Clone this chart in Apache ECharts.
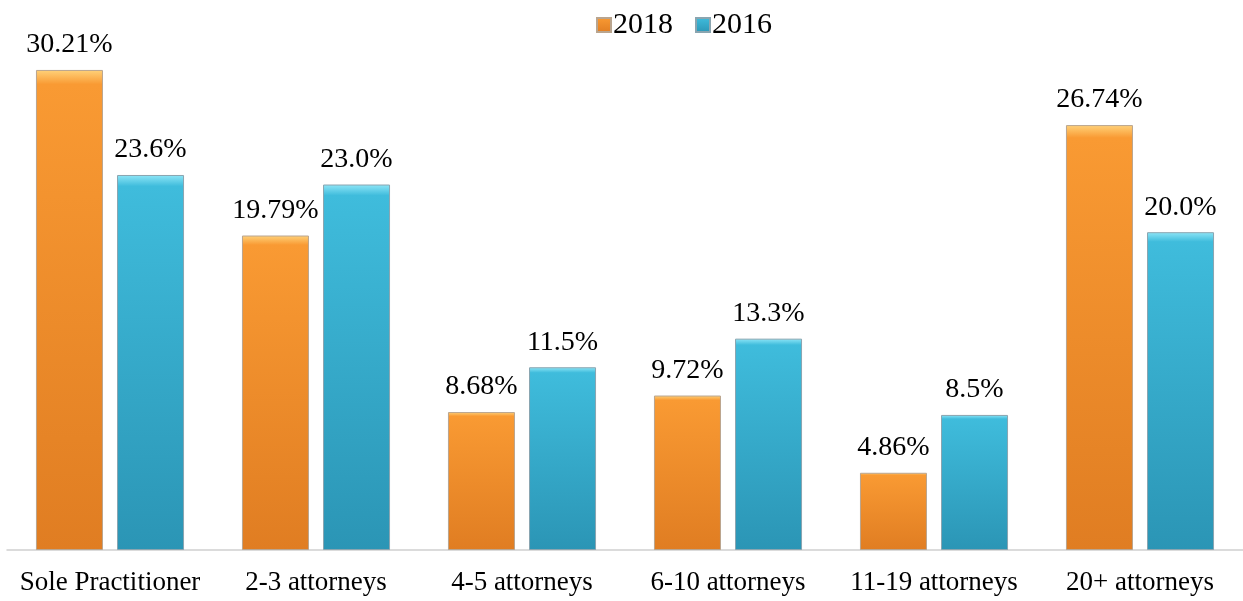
<!DOCTYPE html>
<html>
<head>
<meta charset="utf-8">
<script src="https://cdn.jsdelivr.net/npm/echarts@6/dist/echarts.min.js"></script>
<style>
html, body { margin: 0; padding: 0; background: #fff; }
#chart { width: 1243px; height: 601px; }
</style>
</head>
<body>
<div id="chart"></div>
<script>
var categories = ['Sole Practitioner', '2-3 attorneys', '4-5 attorneys', '6-10 attorneys', '11-19 attorneys', '20+ attorneys'];
var values2018 = [30.21, 19.79, 8.68, 9.72, 4.86, 26.74];
var values2016 = [23.6, 23.0, 11.5, 13.3, 8.5, 20.0];

var fontFam = '"Liberation Serif", "DejaVu Serif", serif';

function barFill(top, mid, bottom) {
	return new echarts.graphic.LinearGradient(0, 0, 0, 1, [
		{ offset: 0, color: top },
		{ offset: 0.03, color: mid },
		{ offset: 1, color: bottom }
	]);
}

var chart = echarts.init(document.getElementById('chart'));
var option = {
	animation: false,
	legend: {
		top: 5,
		left: 591,
		icon: 'rect',
		itemWidth: 14,
		itemHeight: 14,
		itemGap: 22,
		textStyle: { fontFamily: fontFam, fontSize: 30, color: '#000', padding: [0, 0, 0, -3] },
		data: ['2018', '2016']
	},
	grid: {
		left: 7,
		right: -3,
		top: 41.5,
		bottom: 51,
		containLabel: false
	},
	xAxis: {
		type: 'category',
		data: categories,
		axisLine: { lineStyle: { color: '#cfcfcf', width: 1.5 } },
		axisTick: { show: false },
		axisLabel: { interval: 0, fontFamily: fontFam, fontSize: 27, color: '#000', margin: 19 }
	},
	yAxis: {
		type: 'value',
		min: 0,
		max: 32,
		show: false,
		splitLine: { show: false }
	},
	series: [
		{
			name: '2018',
			type: 'bar',
			barWidth: 67,
			barGap: '21%',
			data: values2018,
			itemStyle: {
				color: barFill('#ffd27a', '#f99a33', '#e07d22'),
				borderColor: '#b9a58f',
				borderWidth: 1
			},
			label: {
				show: true,
				position: 'top',
				distance: 11,
				fontFamily: fontFam,
				fontSize: 28,
				color: '#000',
				formatter: function (p) { return p.value.toFixed(2) + '%'; }
			}
		},
		{
			name: '2016',
			type: 'bar',
			barWidth: 67,
			data: values2016,
			itemStyle: {
				color: barFill('#8fe6f7', '#3fbcdc', '#2b95b5'),
				borderColor: '#8aa5b0',
				borderWidth: 1
			},
			label: {
				show: true,
				position: 'top',
				distance: 11,
				fontFamily: fontFam,
				fontSize: 28,
				color: '#000',
				formatter: function (p) { return p.value.toFixed(1) + '%'; }
			}
		}
	]
};
chart.setOption(option);
</script>
</body>
</html>
